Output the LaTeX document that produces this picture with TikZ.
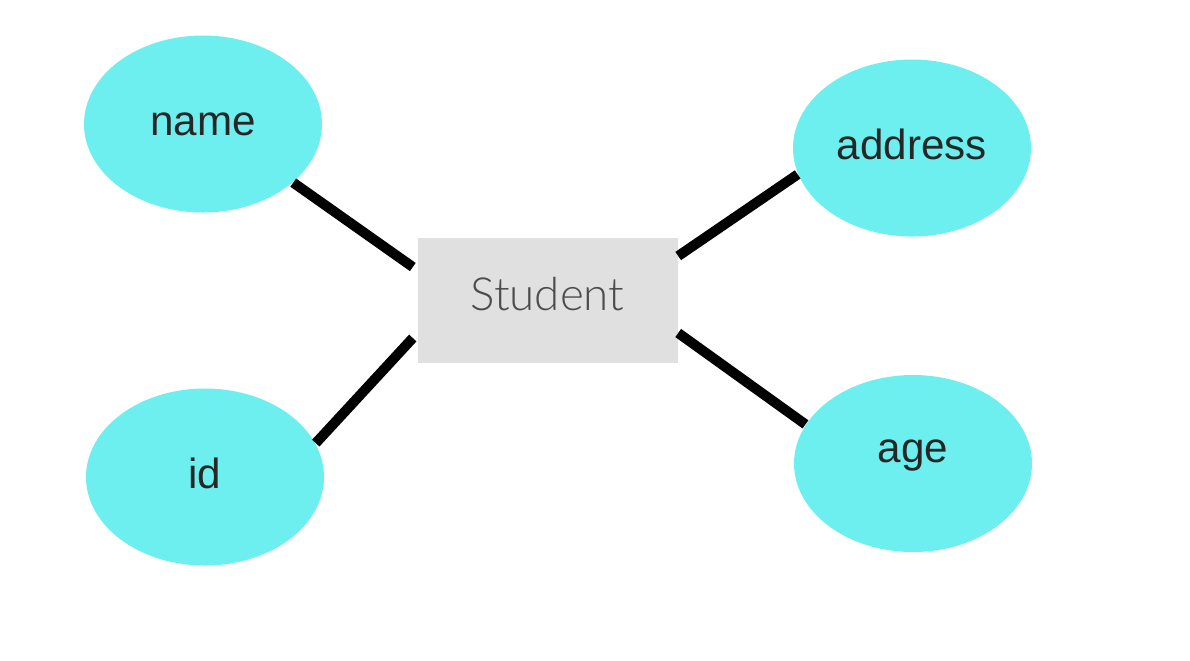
\documentclass[tikz,border=0pt]{standalone}
\usepackage{fontspec}
\setmainfont{Liberation Sans}
\newfontfamily\stufont{Lato}[UprightFont=* Light]
\usepackage{tikz}
\usetikzlibrary{shapes.geometric,positioning}
\definecolor{attrcyan}{HTML}{6DEFF0}
\definecolor{entgray}{HTML}{E0E0E0}

\begin{document}
\begin{tikzpicture}[
    attr/.style={ellipse,fill=attrcyan,inner sep=0pt,minimum width=2.38cm,minimum height=1.77cm,
                 font=\fontsize{12}{14}\selectfont,text=black!85,text height=0.22cm,text depth=0pt},
    entity/.style={rectangle,fill=entgray,minimum width=2.6cm,minimum height=1.25cm,
                   font=\stufont\fontsize{13}{15}\selectfont,text=black!70},
    link/.style={line width=2.85pt,black}]
   \useasboundingbox (0,0) rectangle (11.9,-6.6);
   % entity and its attributes
   \node[entity,text depth=0.13cm] (stu) at (5.475,-3.005) {Student};
   \node[attr] (name) at (2.03,-1.24) {name};
   \node[attr] (id) at (2.05,-4.77) {id};
   \node[attr] (address) at (9.12,-1.48) {address};
   \node[attr,text depth=0.24cm] (age) at (9.13,-4.635) {age};
   % end points on the box
   \coordinate (nameEnd) at ([xshift=-0.04cm,yshift=0.335cm]stu.west);
   \coordinate (idEnd) at ([xshift=-0.04cm,yshift=-0.375cm]stu.west);
   \coordinate (addressEnd) at ([yshift=0.445cm]stu.east);
   \coordinate (ageEnd) at ([yshift=-0.325cm]stu.east);
   \path[link]
    (name.-33) edge (nameEnd)
    (id.17) edge (idEnd)
    (address.193) edge (addressEnd)
    (age.160) edge (ageEnd);
\end{tikzpicture}
\end{document}
